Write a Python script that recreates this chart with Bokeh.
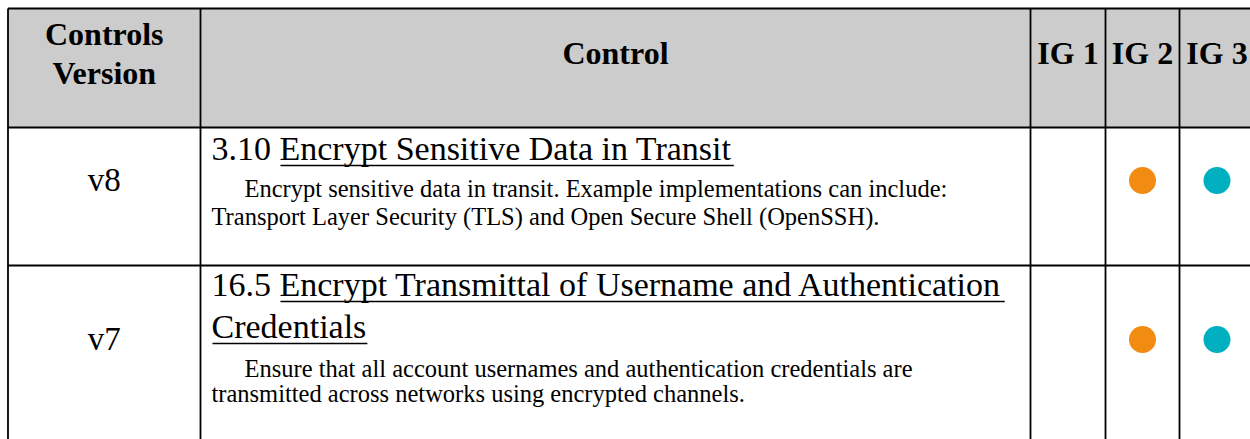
from bokeh.plotting import figure
from bokeh.models import Range1d
from bokeh.embed import file_html
from bokeh.resources import INLINE
from bokeh.core.properties import value

# ---------------- data ----------------
header_labels = ["Controls\nVersion", "Control", "IG 1", "IG 2", "IG 3"]
versions = ["v8", "v7"]
control_ids = ["3.10", "16.5"]
title_lines = [
    ["Encrypt Sensitive Data in Transit"],
    ["Encrypt Transmittal of Username and Authentication", "Credentials"],
]
desc_lines = [
    ["Encrypt sensitive data in transit. Example implementations can include:",
     "Transport Layer Security (TLS) and Open Secure Shell (OpenSSH)."],
    ["Ensure that all account usernames and authentication credentials are",
     "transmitted across networks using encrypted channels."],
]
ig1 = [False, False]
ig2 = [True, True]
ig3 = [True, True]

# ---------------- layout / style ----------------
W, H = 1250, 439
FONT = value("Liberation Serif")
col_edges = [7.5, 200, 1030, 1105, 1179, 1254]
row_edges = [8, 127, 265, 480]
HEADER_FILL = "#cccccc"
ORANGE = "#F18B12"
TEAL = "#00B0C0"
TITLE_SIZE = 34
DESC_SIZE = 24.5
HEAD_SIZE = 32
VER_SIZE = 33
BASE_SHIFT = 0.37  # renderer places the baseline this many ems below y


def Y(v):
    # page pixel (from top) -> data y (from bottom)
    return H - v


def YB(baseline, size):
    # data y that puts the text baseline at the given page pixel
    return Y(baseline - BASE_SHIFT * size)


# Times / Liberation Serif advance widths (1/1000 em) for underline lengths
_w = {' ': 250, '.': 250, 'A': 722, 'C': 667, 'D': 722, 'E': 611, 'S': 556,
      'T': 611, 'U': 722, 'a': 444, 'b': 500, 'c': 444, 'd': 500, 'e': 444,
      'f': 333, 'g': 500, 'h': 500, 'i': 278, 'l': 278, 'm': 778, 'n': 500,
      'o': 500, 'p': 500, 'r': 333, 's': 389, 't': 278, 'u': 500, 'v': 500,
      'y': 500, '0': 500, '1': 500, '3': 500, '5': 500, '6': 500}


def tw(s, size):
    return sum(_w.get(c, 500) for c in s) / 1000.0 * size


p = figure(width=W, height=H, x_range=Range1d(0, W), y_range=Range1d(0, H),
           output_backend="svg", toolbar_location=None, min_border=0)
p.axis.visible = False
p.grid.visible = False
p.outline_line_color = None
p.background_fill_color = "white"
p.border_fill_color = "white"

# header background
p.quad(left=[col_edges[0]], right=[W], top=[Y(row_edges[0])], bottom=[Y(row_edges[1])],
       fill_color=HEADER_FILL, line_color=None)

# grid lines
hy = [Y(y) for y in row_edges[:3]]
p.segment(x0=[col_edges[0]] * 3, y0=hy, x1=[W] * 3, y1=hy,
          line_color="black", line_width=2.2)
vx = col_edges[:5]
p.segment(x0=vx, y0=[Y(row_edges[0])] * 5, x1=vx, y1=[0] * 5,
          line_color="black", line_width=1.8)

centers = [(col_edges[i] + col_edges[i + 1]) / 2 for i in range(5)]

# header texts
first = header_labels[0].split("\n")
hdr_x = [centers[0]] * len(first) + centers[1:]
hdr_y = [YB(45, HEAD_SIZE), YB(84, HEAD_SIZE)] + [YB(64, HEAD_SIZE)] * 4
hdr_t = first + header_labels[1:]
p.text(x=hdr_x, y=hdr_y, text=hdr_t, text_font=FONT, text_font_style="bold",
       text_font_size=f"{HEAD_SIZE}px", text_align="center",
       text_baseline="alphabetic", text_color="black")

# per-row layout (page pixels from top)
row_title_base = [[161], [297, 339]]
row_desc_base = [[197, 225], [377, 402]]
row_mid = [180, 339]
TX = 211
INDENT = 33

tx, ty, tt = [], [], []
ux0, ux1, uy = [], [], []
dx, dy, dt = [], [], []
for r in range(len(versions)):
    for li, line in enumerate(title_lines[r]):
        base = row_title_base[r][li]
        if li == 0:
            prefix = control_ids[r] + " "
            tt.append(prefix + line)
            start = TX + 1 + tw(prefix, TITLE_SIZE)
        else:
            tt.append(line)
            start = TX + 1
        tx.append(TX); ty.append(YB(base, TITLE_SIZE))
        ux0.append(start); ux1.append(start + tw(line, TITLE_SIZE)); uy.append(Y(base + 4))
    for li, line in enumerate(desc_lines[r]):
        dx.append(TX + (INDENT if li == 0 else 0))
        dy.append(YB(row_desc_base[r][li], DESC_SIZE))
        dt.append(line)

p.text(x=tx, y=ty, text=tt, text_font=FONT, text_font_size=f"{TITLE_SIZE}px",
       text_align="left", text_baseline="alphabetic", text_color="black")
p.segment(x0=ux0, y0=uy, x1=ux1, y1=uy, line_color="black", line_width=1.5)
p.text(x=dx, y=dy, text=dt, text_font=FONT, text_font_size=f"{DESC_SIZE}px",
       text_align="left", text_baseline="alphabetic", text_color="black")

# version column
p.text(x=[centers[0]] * len(versions), y=[YB(m + 12, VER_SIZE) for m in row_mid],
       text=versions, text_font=FONT, text_font_size=f"{VER_SIZE}px",
       text_align="center", text_baseline="alphabetic", text_color="black")

# IG dots
for flags, ci, col in ((ig1, 2, ORANGE), (ig2, 3, ORANGE), (ig3, 4, TEAL)):
    ys = [Y(row_mid[i]) for i, f in enumerate(flags) if f]
    if ys:
        p.scatter(x=[centers[ci]] * len(ys), y=ys, size=27, marker="circle",
                  fill_color=col, line_color=None)

open("out.html", "w").write(file_html(p, INLINE))
